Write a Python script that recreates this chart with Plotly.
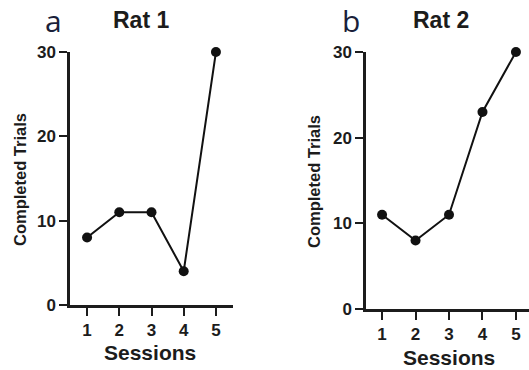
import plotly.graph_objects as go

sessions = [1, 2, 3, 4, 5]
rat1_trials = [8, 11, 11, 4, 30]
rat2_trials = [11, 8, 11, 23, 30]
y_ticks = [0, 10, 20, 30]
panel_titles = ["Rat 1", "Rat 2"]
panel_letters = ["a", "b"]
x_title = "Sessions"
y_title = "Completed Trials"

W, H = 529, 370
INK = "#1c1c1c"
BOLD = dict(family="Liberation Sans, Arial, sans-serif", color=INK, weight="bold")

fig = go.Figure()
for i, vals in enumerate([rat1_trials, rat2_trials]):
    fig.add_trace(go.Scatter(
        x=sessions, y=vals, mode="lines+markers",
        xaxis="x" if i == 0 else "x2", yaxis="y" if i == 0 else "y2",
        line=dict(color="#111111", width=2),
        marker=dict(color="#111111", size=10),
        cliponaxis=False, showlegend=False,
    ))

def xax(domain, rng):
    return dict(domain=domain, range=rng, tickvals=sessions, ticks="outside",
                ticklen=8, tickwidth=2, tickcolor=INK, showline=True,
                linecolor=INK, linewidth=2.5, showgrid=False, zeroline=False,
                tickfont=dict(size=17, **BOLD), fixedrange=True, automargin=False)

def yax(domain, anchor):
    return dict(domain=domain, range=[0, 30], tickvals=y_ticks, ticks="outside",
                ticklen=8, tickwidth=2, tickcolor=INK, showline=True,
                linecolor=INK, linewidth=2.5, showgrid=False, zeroline=False,
                tickfont=dict(size=17, **BOLD), anchor=anchor, fixedrange=True,
                automargin=False)

fig.update_layout(
    width=W, height=H, margin=dict(l=0, r=0, t=0, b=0, pad=0, autoexpand=False),
    paper_bgcolor="white", plot_bgcolor="white",
    xaxis=dict(**xax([70 / W, 233 / W], [0.47, 5.53]), anchor="y"),
    yaxis=yax([65 / H, 318 / H], "x"),
    xaxis2=dict(**xax([366 / W, 1.0], [0.52, 5.39]), anchor="y2"),
    yaxis2=yax([61 / H, 318 / H], "x2"),
)

def ann(text, x, y, size, font=None, angle=0):
    f = dict(size=size, **(font or BOLD))
    fig.add_annotation(text=text, x=x / W, y=1 - y / H, xref="paper", yref="paper",
                       xanchor="center", yanchor="middle", showarrow=False,
                       font=f, textangle=angle)

ann(panel_titles[0], 141, 20, 23)
ann(panel_titles[1], 441, 20, 23)
letter_font = dict(family="Open Sans, Noto Sans, sans-serif", color="#1a1f3a")
ann(panel_letters[0], 53, 21, 30, letter_font)
ann(panel_letters[1], 351, 21, 30, letter_font)
ann(x_title, 150, 352, 21)
ann(x_title, 449, 357, 21)
ann(y_title, 20, 180, 16.5, angle=-90)
ann(y_title, 314, 182, 16.5, angle=-90)

fig.write_html("out.html", config={"responsive": False, "displayModeBar": False},
               post_script="document.body.style.margin='0';document.body.style.overflow='hidden';")
